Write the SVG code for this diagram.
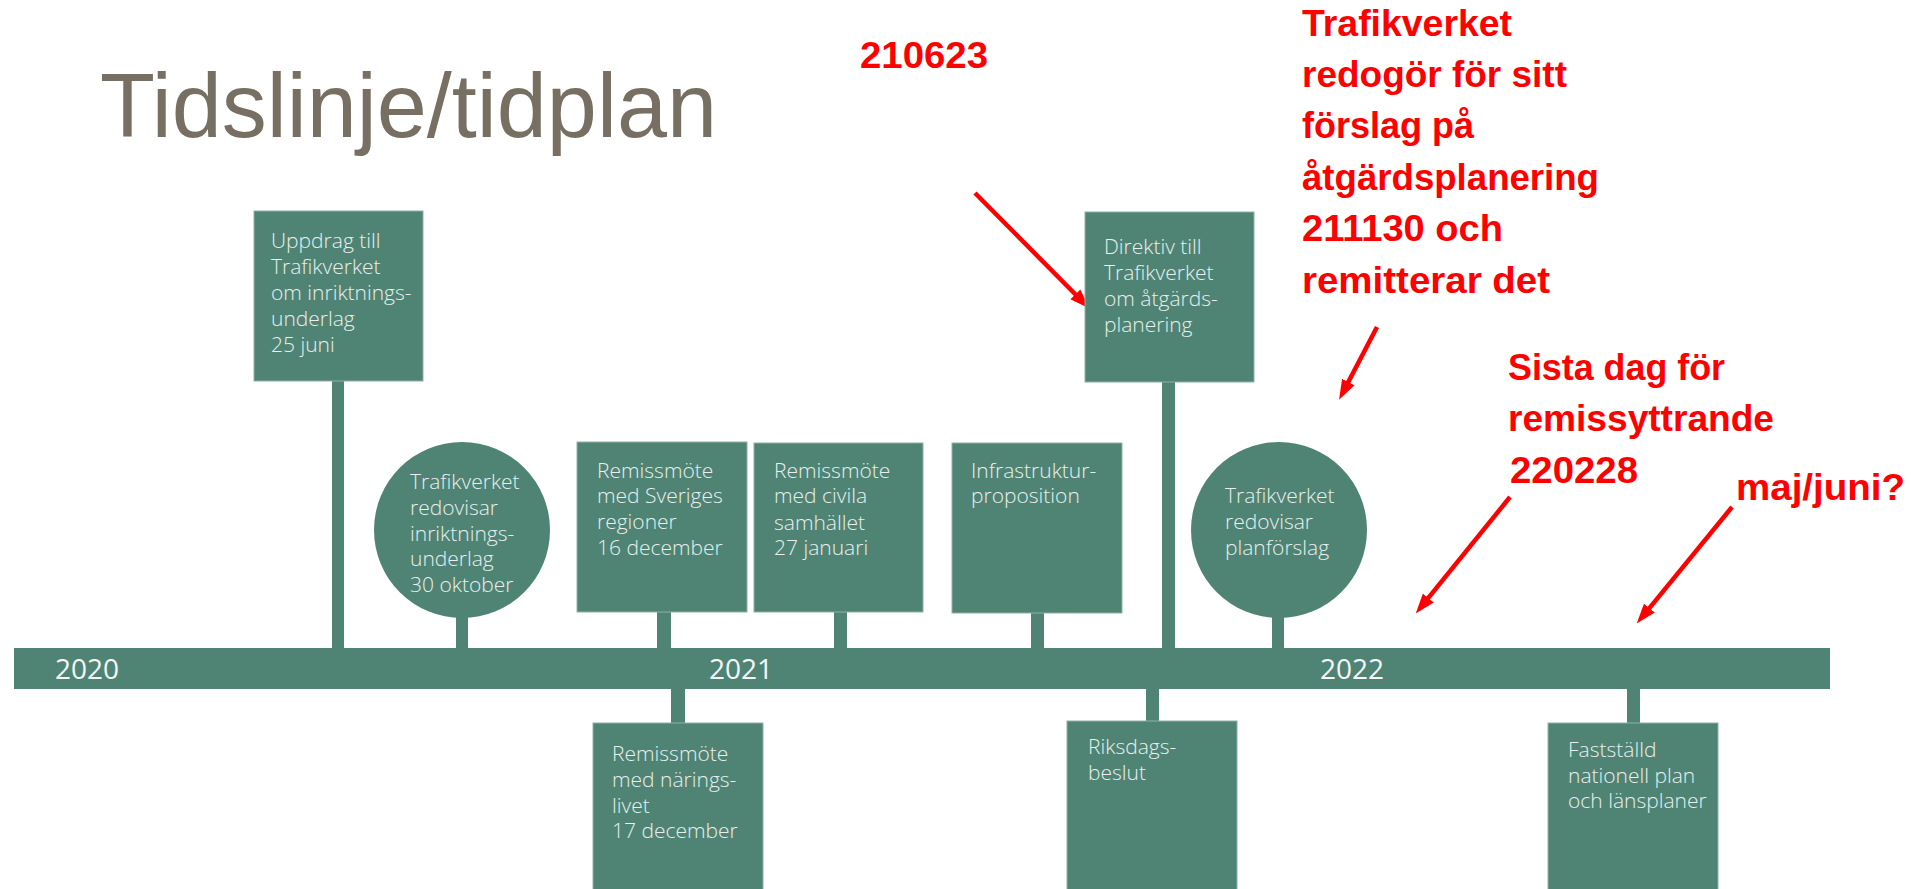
<svg xmlns="http://www.w3.org/2000/svg" width="1911" height="889" viewBox="0 0 1911 889">
  <style>
    .box { fill: #4F8475; stroke: #8FB1A7; stroke-width: 1; }
    .stem { fill: #4F8475; }
    .lbl { font-family: "Open Sans", "DejaVu Sans", sans-serif; font-weight: 300; font-size: 21px; fill: #E8EFED; }
    .year { font-family: "Open Sans", "DejaVu Sans", sans-serif; font-size: 28px; fill: #F4F7F6; }
    .title { font-family: "Liberation Sans", Arial, sans-serif; font-size: 90px; fill: #766F62; }
    .red { font-family: "Liberation Sans", Arial, sans-serif; font-weight: bold; font-size: 37px; fill: #FF0000; }
    .arrow { stroke: #FF0000; stroke-width: 4.5; fill: none; marker-end: url(#ah); }
  </style>
  <defs>
    <marker id="ah" markerUnits="userSpaceOnUse" markerWidth="20" markerHeight="16" refX="8" refY="8" orient="auto">
      <path d="M0,1 L20,8 L0,15 z" fill="#FF0000"/>
    </marker>
  </defs>
  <rect width="1911" height="889" fill="#FFFFFF"/>

  <text class="title" x="100" y="137">Tidslinje/tidplan</text>

  <g id="connectors">
    <rect class="stem" x="332" y="380" width="12" height="270"/>
    <rect class="stem" x="456" y="612" width="12" height="38"/>
    <rect class="stem" x="657" y="611" width="14" height="39"/>
    <rect class="stem" x="671" y="687" width="14" height="37"/>
    <rect class="stem" x="834" y="611" width="13" height="39"/>
    <rect class="stem" x="1031" y="612" width="13" height="38"/>
    <rect class="stem" x="1162" y="381" width="13" height="269"/>
    <rect class="stem" x="1146" y="687" width="13" height="35"/>
    <rect class="stem" x="1272" y="612" width="12" height="38"/>
    <rect class="stem" x="1627" y="687" width="13" height="37"/>
    <line class="arrow" x1="975" y1="193" x2="1081" y2="300"/>
    <line class="arrow" x1="1377" y1="327" x2="1344.6" y2="389.1"/>
    <line class="arrow" x1="1510" y1="497" x2="1423.3" y2="604.2"/>
    <line class="arrow" x1="1732" y1="507" x2="1644.3" y2="614.3"/>
  </g>

  <g id="timeline">
    <rect x="14" y="648" width="1816" height="41" fill="#4F8475"/>
    <text class="year" x="55" y="679">2020</text>
    <text class="year" x="709" y="679">2021</text>
    <text class="year" x="1320" y="679">2022</text>
  </g>

  <g id="uppdrag">
    <rect class="box" x="254" y="211" width="169" height="170"/>
    <text class="lbl" x="271" y="248">Uppdrag till</text>
    <text class="lbl" x="271" y="274">Trafikverket</text>
    <text class="lbl" x="271" y="300">om inriktnings-</text>
    <text class="lbl" x="271" y="326">underlag</text>
    <text class="lbl" x="271" y="352">25 juni</text>
  </g>

  <g id="redovisar-inriktning">
    <circle cx="462" cy="530" r="88" fill="#4F8475"/>
    <text class="lbl" x="410" y="489">Trafikverket</text>
    <text class="lbl" x="410" y="515">redovisar</text>
    <text class="lbl" x="410" y="541">inriktnings-</text>
    <text class="lbl" x="410" y="566">underlag</text>
    <text class="lbl" x="410" y="592">30 oktober</text>
  </g>

  <g id="remiss-regioner">
    <rect class="box" x="577" y="442" width="170" height="170"/>
    <text class="lbl" x="597" y="478">Remissmöte</text>
    <text class="lbl" x="597" y="503">med Sveriges</text>
    <text class="lbl" x="597" y="529">regioner</text>
    <text class="lbl" x="597" y="555">16 december</text>
  </g>

  <g id="remiss-naringsliv">
    <rect class="box" x="593" y="723" width="170" height="170"/>
    <text class="lbl" x="612" y="761">Remissmöte</text>
    <text class="lbl" x="612" y="787">med närings-</text>
    <text class="lbl" x="612" y="813">livet</text>
    <text class="lbl" x="612" y="838">17 december</text>
  </g>

  <g id="remiss-civila">
    <rect class="box" x="754" y="443" width="169" height="169"/>
    <text class="lbl" x="774" y="478">Remissmöte</text>
    <text class="lbl" x="774" y="503">med civila</text>
    <text class="lbl" x="774" y="530">samhället</text>
    <text class="lbl" x="774" y="555">27 januari</text>
  </g>

  <g id="infrastruktur">
    <rect class="box" x="952" y="443" width="170" height="170"/>
    <text class="lbl" x="971" y="478">Infrastruktur-</text>
    <text class="lbl" x="971" y="503">proposition</text>
  </g>

  <g id="direktiv">
    <rect class="box" x="1085" y="212" width="169" height="170"/>
    <text class="lbl" x="1104" y="254">Direktiv till</text>
    <text class="lbl" x="1104" y="280">Trafikverket</text>
    <text class="lbl" x="1104" y="306">om åtgärds-</text>
    <text class="lbl" x="1104" y="332">planering</text>
  </g>

  <g id="riksdagsbeslut">
    <rect class="box" x="1067" y="721" width="170" height="172"/>
    <text class="lbl" x="1088" y="754">Riksdags-</text>
    <text class="lbl" x="1088" y="780">beslut</text>
  </g>

  <g id="redovisar-plan">
    <circle cx="1279" cy="530" r="88" fill="#4F8475"/>
    <text class="lbl" x="1225" y="503">Trafikverket</text>
    <text class="lbl" x="1225" y="529">redovisar</text>
    <text class="lbl" x="1225" y="555">planförslag</text>
  </g>

  <g id="faststalld">
    <rect class="box" x="1548" y="723" width="170" height="170"/>
    <text class="lbl" x="1568" y="757">Fastställd</text>
    <text class="lbl" x="1568" y="783">nationell plan</text>
    <text class="lbl" x="1568" y="808">och länsplaner</text>
  </g>

  <g id="annotations">
    <text class="red" x="860" y="68" textLength="128" lengthAdjust="spacingAndGlyphs">210623</text>
    <text class="red" x="1302" y="36" textLength="210" lengthAdjust="spacingAndGlyphs">Trafikverket</text>
    <text class="red" x="1302" y="87" textLength="265" lengthAdjust="spacingAndGlyphs">redogör för sitt</text>
    <text class="red" x="1302" y="138" textLength="172" lengthAdjust="spacingAndGlyphs">förslag på</text>
    <text class="red" x="1302" y="190" textLength="297" lengthAdjust="spacingAndGlyphs">åtgärdsplanering</text>
    <text class="red" x="1302" y="241" textLength="201" lengthAdjust="spacingAndGlyphs">211130 och</text>
    <text class="red" x="1302" y="293" textLength="248" lengthAdjust="spacingAndGlyphs">remitterar det</text>
    <text class="red" x="1508" y="380" textLength="217" lengthAdjust="spacingAndGlyphs">Sista dag för</text>
    <text class="red" x="1508" y="431" textLength="266" lengthAdjust="spacingAndGlyphs">remissyttrande</text>
    <text class="red" x="1510" y="483" textLength="128" lengthAdjust="spacingAndGlyphs">220228</text>
    <text class="red" x="1736" y="500" textLength="169" lengthAdjust="spacingAndGlyphs">maj/juni?</text>
  </g>
</svg>
